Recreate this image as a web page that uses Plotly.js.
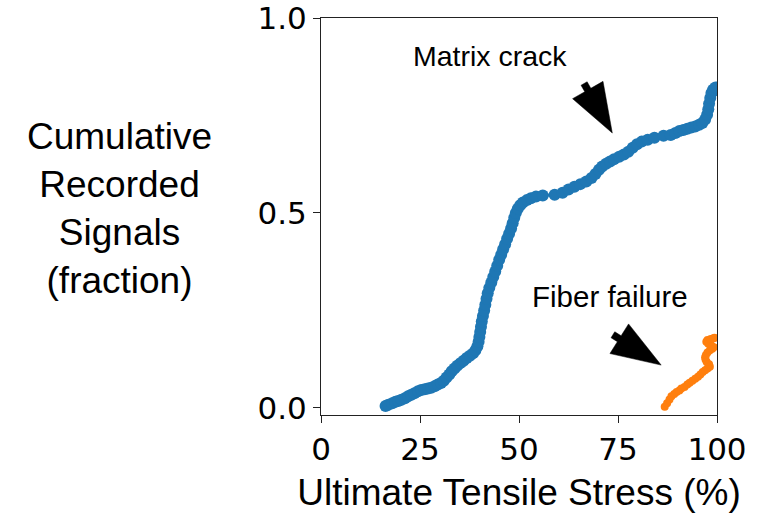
<!DOCTYPE html>
<html>
<head>
<meta charset="utf-8">
<script src="https://cdn.plot.ly/plotly-3.0.1.min.js"></script>
<style>html,body{margin:0;padding:0;background:#fff;}#chart{width:765px;height:513px;}</style>
</head>
<body>
<div id="chart"></div>
<script>
// Matrix crack signals: stress (% UTS) vs cumulative fraction
const matrixStress = [16.3,17.0,18.0,18.8,19.5,20.3,21.2,22.0,22.8,23.6,24.5,25.3,26.2,27.0,27.8,28.7,29.5,30.3,31.0,31.7,32.4,33.0,33.7,34.4,35.2,36.0,36.8,37.6,38.4,39.0,39.5,39.8,40.0,40.2,40.4,40.6,40.9,41.2,41.5,41.8,42.1,42.5,43.0,43.5,44.0,44.5,45.0,45.5,46.0,46.5,47.0,47.5,48.0,48.4,48.8,49.2,49.7,50.3,51.0,52.0,53.0,54.3,56.0,59.0,61.0,62.5,64.0,65.5,67.0,68.3,69.3,70.2,71.0,72.0,73.0,74.0,75.3,76.5,77.6,78.7,79.8,81.0,82.5,84.2,86.5,88.3,89.5,90.5,91.5,92.5,93.5,94.5,95.5,96.3,97.0,97.5,97.8,98.0,98.3,98.6,99.0,99.6];
const matrixFraction = [0.005,0.008,0.012,0.016,0.018,0.021,0.025,0.030,0.034,0.038,0.043,0.046,0.048,0.050,0.052,0.056,0.060,0.064,0.070,0.078,0.086,0.094,0.101,0.108,0.115,0.121,0.128,0.134,0.140,0.148,0.158,0.170,0.182,0.195,0.208,0.222,0.236,0.250,0.265,0.280,0.294,0.308,0.322,0.336,0.350,0.365,0.380,0.393,0.407,0.420,0.434,0.447,0.460,0.474,0.488,0.500,0.511,0.520,0.527,0.533,0.538,0.542,0.545,0.547,0.552,0.560,0.567,0.574,0.581,0.590,0.600,0.611,0.619,0.626,0.632,0.638,0.644,0.650,0.657,0.667,0.676,0.683,0.688,0.693,0.698,0.700,0.705,0.710,0.713,0.716,0.719,0.722,0.726,0.731,0.740,0.752,0.766,0.780,0.795,0.808,0.816,0.822];

// Fiber failure signals
const fiberStress = [86.8,87.4,88.0,88.5,89.2,89.8,90.5,91.0,91.8,92.5,93.1,93.8,94.5,95.2,95.8,96.4,97.0,97.6,98.2,98.0,97.4,97.1,97.0,97.2,97.6,98.2,98.8,99.2,98.6,97.8,97.3,97.6,98.4,99.1,99.4];
const fiberFraction = [0.003,0.012,0.022,0.030,0.036,0.041,0.045,0.050,0.054,0.060,0.065,0.070,0.075,0.080,0.086,0.092,0.097,0.101,0.106,0.112,0.118,0.124,0.130,0.136,0.142,0.148,0.152,0.156,0.160,0.165,0.170,0.174,0.177,0.179,0.180];

const xTicks = [0, 25, 50, 75, 100];
const yTicks = [0, 0.5, 1.0];
const xLabel = 'Ultimate Tensile Stress (%)';
const yLabel = 'Cumulative<br>Recorded<br>Signals<br>(fraction)';
const labelMatrix = 'Matrix crack';
const labelFiber = 'Fiber failure';

const sans = 'Liberation Sans, Arial, sans-serif';
const dejavu = 'DejaVu Sans, sans-serif';

// arrow geometry (pixels): tip in data coords, direction toward tail in screen px (y up)
function arrowShape(tipX, tipY, dx, dy) {
  const n = Math.hypot(dx, dy), ux = dx / n, uy = dy / n;
  const px = -uy, py = ux;
  const L = 49.5, W = 17.5, s = 3.5, len = 57;
  const pts = [
    [0, 0],
    [ux*L + px*W, uy*L + py*W],
    [ux*L + px*s, uy*L + py*s],
    [ux*len + px*s, uy*len + py*s],
    [ux*len - px*s, uy*len - py*s],
    [ux*L - px*s, uy*L - py*s],
    [ux*L - px*W, uy*L - py*W]
  ];
  const path = 'M' + pts.map(p => p[0].toFixed(2) + ',' + p[1].toFixed(2)).join('L') + 'Z';
  return {type: 'path', xref: 'x', yref: 'y', xsizemode: 'pixel', ysizemode: 'pixel',
          xanchor: tipX, yanchor: tipY, path: path,
          fillcolor: '#000', line: {color: '#000', width: 0.5}, layer: 'above'};
}

const traces = [
  {x: matrixStress, y: matrixFraction, type: 'scatter', mode: 'lines+markers',
   line: {color: '#1f77b4', width: 3}, marker: {color: '#1f77b4', size: 12}, showlegend: false},
  {x: fiberStress, y: fiberFraction, type: 'scatter', mode: 'lines+markers',
   line: {color: '#ff7f0e', width: 5}, marker: {color: '#ff7f0e', size: 8}, showlegend: false}
];

const axisCommon = {
  showgrid: false, zeroline: false, showline: true, mirror: true,
  linecolor: '#222', linewidth: 1, ticks: 'outside', ticklen: 7, tickwidth: 1, tickcolor: '#222',
  ticklabeloverflow: 'allow',
  tickfont: {family: dejavu, size: 31, color: '#000'}
};

const layout = {
  width: 765, height: 513,
  margin: {l: 321, r: 48, t: 18, b: 98},
  paper_bgcolor: '#fff', plot_bgcolor: '#fff',
  xaxis: Object.assign({}, axisCommon, {
    range: [0, 100], tickvals: xTicks, ticktext: xTicks.map(String),
    title: {text: xLabel, font: {family: sans, size: 37, color: '#000'}, standoff: 12}
  }),
  yaxis: Object.assign({}, axisCommon, {
    range: [-0.018, 1.0], tickvals: yTicks, ticktext: yTicks.map(v => v.toFixed(1))
  }),
  annotations: [
    {text: yLabel, xref: 'paper', yref: 'paper', x: -0.5076, y: 0.519, xanchor: 'center', yanchor: 'middle',
     showarrow: false, font: {family: sans, size: 37, color: '#000'}},
    {text: labelMatrix, xref: 'x', yref: 'y', x: 42.75, y: 0.903, xanchor: 'center', yanchor: 'middle',
     showarrow: false, font: {family: sans, size: 28.5, color: '#000'}},
    {text: labelFiber, xref: 'x', yref: 'y', x: 73.05, y: 0.287, xanchor: 'center', yanchor: 'middle',
     showarrow: false, font: {family: sans, size: 29.5, color: '#000'}}
  ],
  shapes: [
    arrowShape(73.56, 0.705, -28.2, 49.5),
    arrowShape(85.9, 0.110, -48.2, 30.3)
  ]
};

Plotly.newPlot('chart', traces, layout, {displayModeBar: false, staticPlot: true});
</script>
</body>
</html>
